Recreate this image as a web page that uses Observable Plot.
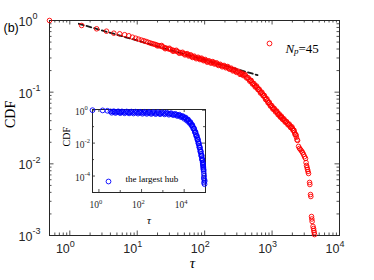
<!DOCTYPE html>
<html><head><meta charset="utf-8">
<script src="https://cdn.jsdelivr.net/npm/d3@7"></script>
<script src="https://cdn.jsdelivr.net/npm/@observablehq/plot@0.6"></script>
<style>
html,body{margin:0;padding:0;background:#fff;}
#wrap{position:relative;width:374px;height:280px;overflow:hidden;background:#fff;}
</style></head><body><div id="wrap"></div>
<script>
// ---- data ----
const redTau = [0.5,1.5,2.5,3.5,4.5,5.5,6.5,7.5,8.5,9.5,
 10.5,11.5,12.5,13.5,14.5,15.5,16.5,17.5,18.5,19.5,
 21,22.5,24,25.5,27,29,31,33,35,37.5,
 40,43,46,49,52.5,56,60,64,68,72.5,
 77.5,82.5,87.5,93,99,105,112,120,128,136,
 145,155,165,176,188,200,213,226,240,255,
 270,288,305,325,345,365,385,405,430,455,
 480,500,525,550,575,600,630,660,690,720,
 750,785,820,855,890,925,965,1010,1050,1100,
 1150,1200,1250,1300,1350,1400,1460,1530,1600,1680,
 1760,1840,1920,2010,2080,2150,2230,2300,2390,2472,
 2553,2642,2735,2831,2931,3027,3133,3192,3243,3304,
 3357,3412,3475,3597,3631,3715,3758,3846,3890,3926,
 4046,4121,4159,4217,4266,
 20,23,26,30,34,38,42,47,51,55,
 58,62,66,70,75,80,85,90,96,102,
 109,116,124,132,140,150,160,170,182,194,
 206,220,233,248,262,279,296,315,335,355,
 375,395,418,442,468,490,512,538,562,588,
 615,645,675,705,735,768,802,838,872,908,
 945,988,1030,1075,1125,1175,1225,1275,1325,1375,
 1430,1495,1565,1640,1720,1800,1880,1965,2045,2115,
 2190,2265,2345];
const redCdf = [1.0,0.852,0.766,0.709,0.665,0.652,0.633,0.612,0.585,0.566,
 0.549,0.533,0.522,0.510,0.497,0.486,0.477,0.470,0.462,0.455,
 0.446,0.437,0.428,0.418,0.411,0.402,0.395,0.388,0.381,0.374,
 0.366,0.358,0.351,0.344,0.339,0.334,0.326,0.318,0.311,0.305,
 0.300,0.296,0.292,0.286,0.280,0.274,0.268,0.264,0.261,0.257,
 0.252,0.246,0.240,0.236,0.231,0.228,0.224,0.218,0.212,0.207,
 0.202,0.198,0.193,0.186,0.181,0.177,0.174,0.169,0.159,0.150,
 0.145,0.138,0.131,0.125,0.120,0.116,0.109,0.103,0.0985,0.0945,
 0.0895,0.0845,0.0800,0.0755,0.0715,0.0680,0.0645,0.0611,0.0585,0.0565,
 0.0540,0.0515,0.0490,0.0470,0.0455,0.0440,0.0420,0.0403,0.0385,0.0368,
 0.0354,0.0338,0.0325,0.0311,0.0295,0.0275,0.0256,0.0235,0.0212,0.0175,
 0.0164,0.0158,0.0151,0.0144,0.0135,0.0126,0.0119,0.0104,0.00948,0.00889,
 0.00834,0.00782,0.00733,0.00550,0.00515,0.00373,0.00350,0.00184,0.00170,0.00157,
 0.00134,0.00125,0.00117,0.00110,0.00103,
 0.442,0.448,0.404,0.410,0.372,0.384,0.349,0.360,0.331,0.345,
 0.320,0.332,0.305,0.318,0.293,0.307,0.285,0.298,0.275,0.286,
 0.262,0.274,0.254,0.267,0.247,0.257,0.236,0.245,0.226,0.236,
 0.219,0.228,0.209,0.216,0.198,0.206,0.189,0.196,0.177,0.185,
 0.170,0.177,0.158,0.159,0.142,0.146,0.130,0.132,0.118,0.122,
 0.109,0.110,0.097,0.100,0.089,0.090,0.079,0.081,0.071,0.0725,
 0.064,0.065,0.058,0.0595,0.053,0.0545,0.0485,0.0497,0.0448,0.0462,
 0.0417,0.0425,0.0382,0.0389,0.0350,0.0358,0.0321,0.0329,0.0294,0.0294,
 0.0257,0.0253,0.0216];
const fitTau = [1.36, 610];
const fitCdf = [0.9, 0.173];
const blueTau = [0.5,1.5,2.5,3.5,4.5,5.5,7,9,11,14,
 18,23,29,37,47,60,76,97,123,156,
 198,250,320,405,515,655,830,1060,1350,1700,
 2150,2700,3400,4300,5300,6500,7800,9200,10800,12500,
 14300,16300,18400,20600,23000,25500,28000,30500,33000,35500,
 38000,40500,43000,45500,48000,50500,53000,56000,59000,62000,
 65000,68000,71000,74000,76000,78000,80000,82000,84000,86000,
 83000,88000,92000,85000,90000,
 4,5,6,8,10,12,16,20,26,33,
 42,53,68,86,110,140,176,222,285,360,
 460,585,740,940,1200,1520,1920,2420,3050,3850,
 4800,5900,7100,8500,10000,11600,13400,15300,17300,19500,
 21800,24200,26700,29200,31700,34200,36700,39200,41700,44200,
 46700,49200,51700,54500,57500,60500,63500,66500,69500,72500,
 75000,77000,79000,81000];
const blueCdf = [1.0,0.97,0.92,0.84,0.80,0.78,0.77,0.76,0.755,0.75,
 0.745,0.74,0.735,0.73,0.725,0.72,0.715,0.71,0.70,0.695,
 0.69,0.68,0.675,0.67,0.665,0.66,0.655,0.645,0.635,0.62,
 0.60,0.58,0.55,0.52,0.49,0.46,0.42,0.38,0.34,0.30,
 0.26,0.22,0.185,0.155,0.125,0.098,0.077,0.060,0.046,0.035,
 0.027,0.021,0.016,0.012,0.0092,0.0070,0.0053,0.0040,0.0030,0.0022,
 0.0016,0.0012,0.00090,0.00068,0.00050,0.00037,0.00027,0.00020,0.00014,0.00010,
 0.000075,0.000060,0.000050,0.000040,0.000032,
 0.70,0.86,0.68,0.85,0.66,0.84,0.65,0.83,0.64,0.82,
 0.63,0.81,0.62,0.80,0.61,0.79,0.60,0.78,0.59,0.77,
 0.58,0.76,0.57,0.74,0.56,0.72,0.53,0.66,0.50,0.60,
 0.44,0.53,0.38,0.44,0.30,0.36,0.23,0.27,0.17,0.19,
 0.12,0.125,0.076,0.078,0.046,0.047,0.027,0.028,0.016,0.017,
 0.0095,0.0098,0.0055,0.0057,0.0030,0.0032,0.0017,0.0018,0.0010,0.00098,
 0.00060,0.00045,0.00032,0.00024];

const mainXTicks = [1,10,100,1000,10000];
const mainXExp = ["0","1","2","3","4"];
const mainYTicks = [1,0.1,0.01,0.001];
const mainYExp = ["0","-1","-2","-3"];
const insetXTicks = [1,100,10000];
const insetXExp = ["0","2","4"];
const insetXMid = [10,1000,100000];
const insetYTicks = [1,1e-2,1e-4];
const insetYExp = ["0","-2","-4"];
const insetYMid = [1e-1,1e-3,1e-5];
const panelLabel = "(b)";
const yLabel = "CDF";
const xLabel = "τ";
const redLegend = ["N","p","=45"];
const blueLegend = "the largest hub";

// ---- helpers ----
function minors(lo, hi){
  const out=[];
  for(let e=Math.floor(Math.log10(lo))-1;e<=Math.ceil(Math.log10(hi));e++)
    for(let m=2;m<=9;m++){const v=m*Math.pow(10,e); if(v>lo*1.0001&&v<hi*0.9999) out.push(v);}
  return out;
}
const red = redTau.map((t,i)=>({t, c: redCdf[i]}));
const blue = blueTau.map((t,i)=>({t, c: blueCdf[i]}));
const fit = fitTau.map((t,i)=>({t, c: fitCdf[i]}));

const SANS = "'Liberation Sans', Arial, Helvetica, sans-serif";
const SERIF = "'Liberation Serif', 'Times New Roman', 'DejaVu Serif', serif";
const AX = "#262626";
const RED = "#ff0000", BLUE = "#0000ff";

function boxTicks(pw, ph, xMaj, yMaj, xMin, yMin, majL, minL){
  const o = {stroke: AX, strokeWidth: 0.8};
  return [
    Plot.tickX(xMaj, {x: d=>d, insetTop: ph-majL, ...o}),
    Plot.tickX(xMaj, {x: d=>d, insetBottom: ph-majL, ...o}),
    Plot.tickX(xMin, {x: d=>d, insetTop: ph-minL, ...o}),
    Plot.tickX(xMin, {x: d=>d, insetBottom: ph-minL, ...o}),
    Plot.tickY(yMaj, {y: d=>d, insetRight: pw-majL, ...o}),
    Plot.tickY(yMaj, {y: d=>d, insetLeft: pw-majL, ...o}),
    Plot.tickY(yMin, {y: d=>d, insetRight: pw-minL, ...o}),
    Plot.tickY(yMin, {y: d=>d, insetLeft: pw-minL, ...o})
  ];
}

// ---- main chart ----
const W=374, H=280, mL=49, mT=20, mR=35, mB=45;
const pw = W-mL-mR, ph = H-mT-mB;
const main = Plot.plot({
  width: W, height: H, marginLeft: mL, marginTop: mT, marginRight: mR, marginBottom: mB,
  style: {position:"absolute", left:"0px", top:"0px", background:"white", overflow:"visible"},
  x: {type:"log", domain:[0.5, 1e4], axis:null},
  y: {type:"log", domain:[1e-3, 1], axis:null},
  marks: [
    ...boxTicks(pw, ph, mainXTicks, mainYTicks, minors(0.5,1e4), minors(1e-3,1), 4.5, 2.5),
    Plot.frame({stroke: AX, strokeWidth: 1}),
    Plot.line(fit, {x:"t", y:"c", stroke:"#1a1a1a", strokeWidth:1.8, strokeDasharray:"5,3"}),
    Plot.dot(red, {x:"t", y:"c", r:2.3, stroke:RED, strokeWidth:0.9, fill:"none"}),
    // tick labels
    Plot.text(mainXTicks, {x:d=>d, frameAnchor:"bottom", dy:17, text:()=> "10", textAnchor:"end", fontSize:12.5, fontFamily:SANS, fill:AX}),
    Plot.text(mainXTicks, {x:d=>d, frameAnchor:"bottom", dy:11.5, text:(d,i)=>mainXExp[i], textAnchor:"start", fontSize:9, fontFamily:SANS, fill:AX}),
    Plot.text(mainYTicks, {y:d=>d, frameAnchor:"left", dx:-17, dy:1.5, text:()=> "10", textAnchor:"end", fontSize:12.5, fontFamily:SANS, fill:AX}),
    Plot.text(mainYTicks, {y:d=>d, frameAnchor:"left", dx:-17, dy:-4, text:(d,i)=>mainYExp[i], textAnchor:"start", fontSize:9, fontFamily:SANS, fill:AX}),
    // labels
    Plot.text([panelLabel], {frameAnchor:"top-left", dx:-46, dy:3, textAnchor:"start", fontSize:12.5, fontFamily:SANS, fill:"#000"}),
    Plot.text([yLabel], {frameAnchor:"left", dx:-39, dy:0, rotate:-90, fontSize:14, fontFamily:SERIF, fill:"#000"}),
    Plot.text([xLabel], {frameAnchor:"bottom", dx:-2, dy:32, fontSize:15, fontStyle:"italic", fontFamily:SERIF, fill:"#000"}),
    // legend
    Plot.dot([{k:"red"}], {frameAnchor:"top-right", dx:-70, dy:23, r:2.4, stroke:RED, strokeWidth:0.9, fill:"none"}),
    Plot.text([redLegend[0]], {frameAnchor:"top-right", dx:-54, dy:23, textAnchor:"start", fontSize:13, fontStyle:"italic", fontFamily:SERIF, fill:"#000"}),
    Plot.text([redLegend[1]], {frameAnchor:"top-right", dx:-45.5, dy:27, textAnchor:"start", fontSize:9, fontStyle:"italic", fontFamily:SERIF, fill:"#000"}),
    Plot.text([redLegend[2]], {frameAnchor:"top-right", dx:-41, dy:23, textAnchor:"start", fontSize:13, fontFamily:SERIF, fill:"#000"})
  ]
});

// ---- inset ----
const iW=160, iH=130, imL=37, imT=9, imR=10, imB=38;
const ipw = iW-imL-imR, iph = iH-imT-imB;
const inset = Plot.plot({
  width: iW, height: iH, marginLeft: imL, marginTop: imT, marginRight: imR, marginBottom: imB,
  style: {position:"absolute", left:"55px", top:"100px", background:"none", overflow:"visible"},
  x: {type:"log", domain:[0.5, 1e5], axis:null},
  y: {type:"log", domain:[1e-5, 1.1], axis:null},
  marks: [
    Plot.frame({fill:"white", stroke:"none"}),
    ...boxTicks(ipw, iph, insetXTicks, insetYTicks, insetXMid, insetYMid, 3, 2),
    Plot.frame({stroke: AX, strokeWidth: 1}),
    Plot.dot(blue, {x:"t", y:"c", r:2.4, stroke:BLUE, strokeWidth:0.9, fill:"none"}),
    Plot.text(insetXTicks, {x:d=>d, frameAnchor:"bottom", dy:15, text:()=> "10", textAnchor:"end", fontSize:9.5, fontFamily:SERIF, fill:AX}),
    Plot.text(insetXTicks, {x:d=>d, frameAnchor:"bottom", dy:11, text:(d,i)=>insetXExp[i], textAnchor:"start", fontSize:6.5, fontFamily:SERIF, fill:AX}),
    Plot.text(insetYTicks, {y:d=>d, frameAnchor:"left", dx:-8, dy:1.5, text:()=> "10", textAnchor:"end", fontSize:9.5, fontFamily:SERIF, fill:AX}),
    Plot.text(insetYTicks, {y:d=>d, frameAnchor:"left", dx:-8, dy:-2.5, text:(d,i)=>insetYExp[i], textAnchor:"start", fontSize:6.5, fontFamily:SERIF, fill:AX}),
    Plot.text([yLabel], {frameAnchor:"left", dx:-26, dy:-4.5, rotate:-90, fontSize:10, fontFamily:SERIF, fill:"#000"}),
    Plot.text([xLabel], {frameAnchor:"bottom", dy:31, fontSize:11, fontStyle:"italic", fontFamily:SERIF, fill:"#000"}),
    Plot.dot([{k:"blue"}], {frameAnchor:"bottom-left", dx:16, dy:-11, r:2.4, stroke:BLUE, strokeWidth:0.9, fill:"none"}),
    Plot.text([blueLegend], {frameAnchor:"bottom-left", dx:33, dy:-11, textAnchor:"start", fontSize:9, fontFamily:SERIF, fill:"#000"})
  ]
});

const wrap = document.getElementById("wrap");
wrap.appendChild(main);
wrap.appendChild(inset);
</script>
</body></html>
